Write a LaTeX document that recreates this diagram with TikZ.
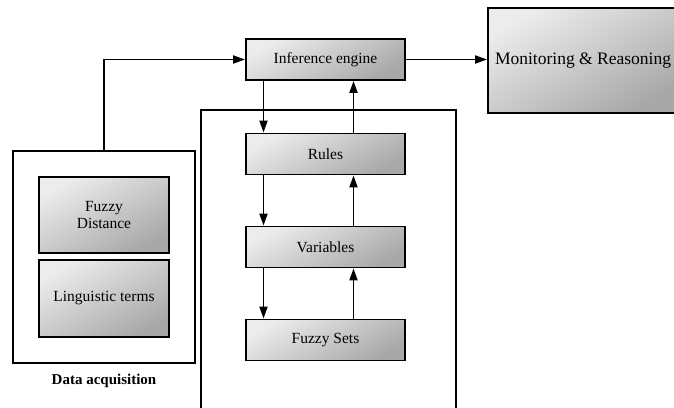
\documentclass[tikz,border=0pt]{standalone}
\usepackage{fontspec}
\setmainfont{Liberation Serif}
\usetikzlibrary{arrows.meta,positioning}

\begin{document}
\begin{tikzpicture}[x=1pt,y=-1pt,>={Triangle[length=12pt,width=8pt]},line width=1.9pt,node distance=93pt,
    block/.style={draw,rectangle,top color=gray!15,bottom color=gray!68,shading angle=30,
      minimum width=159pt,minimum height=41pt,inner sep=2pt,font=\fontsize{15.5}{17}\selectfont},
    frame/.style={draw,rectangle,inner sep=0pt}]

    \useasboundingbox (0,0) rectangle (674,407);
    \clip (0,0) rectangle (674,407);

    \node[block] (ie) at (325.5,59.5) {Inference engine};
    \node[block] (rules) at (325.5,154) {Rules};
    \node[block] (vars) [below of=rules] {Variables};
    \node[block] (sets) [below of=vars] {Fuzzy Sets};

    \node[block, minimum width=190pt, minimum height=105pt, font=\fontsize{17.5}{19}\selectfont]
      (mon) at (583,60.5) {Monitoring \& Reasoning};

    \node[frame, minimum width=182pt, minimum height=212pt] (data) at (104,257) {};
    \node[block, minimum width=130pt, minimum height=76pt, align=center] (dist) at (104,215) {Fuzzy\\Distance};
    \node[block, minimum width=130pt, minimum height=77pt] (terms) at (104,298.5) {Linguistic terms};
    \node[font=\bfseries\fontsize{15}{17}\selectfont] (label) at (104,381) {Data acquisition};

    % knowledge base, open at the bottom
    \coordinate (kbl) at (201,420);
    \coordinate (kbr) at (456,420);
    \draw (kbl) |- (328,110) -| (kbr);

    \draw[->] (data.north) |- (ie.west);
    \draw[->] (ie.east) -- (ie.east -| mon.west);

    \path[->]
      ([xshift=-62pt]ie.south) edge ([xshift=-62pt]rules.north)
      ([xshift=-62pt]rules.south) edge ([xshift=-62pt]vars.north)
      ([xshift=-62pt]vars.south) edge ([xshift=-62pt]sets.north)

      ([xshift=28pt]sets.north) edge ([xshift=28pt]vars.south)
      ([xshift=28pt]vars.north) edge ([xshift=28pt]rules.south)
      ([xshift=28pt]rules.north) edge ([xshift=28pt]ie.south)
      ;
\end{tikzpicture}
\end{document}
